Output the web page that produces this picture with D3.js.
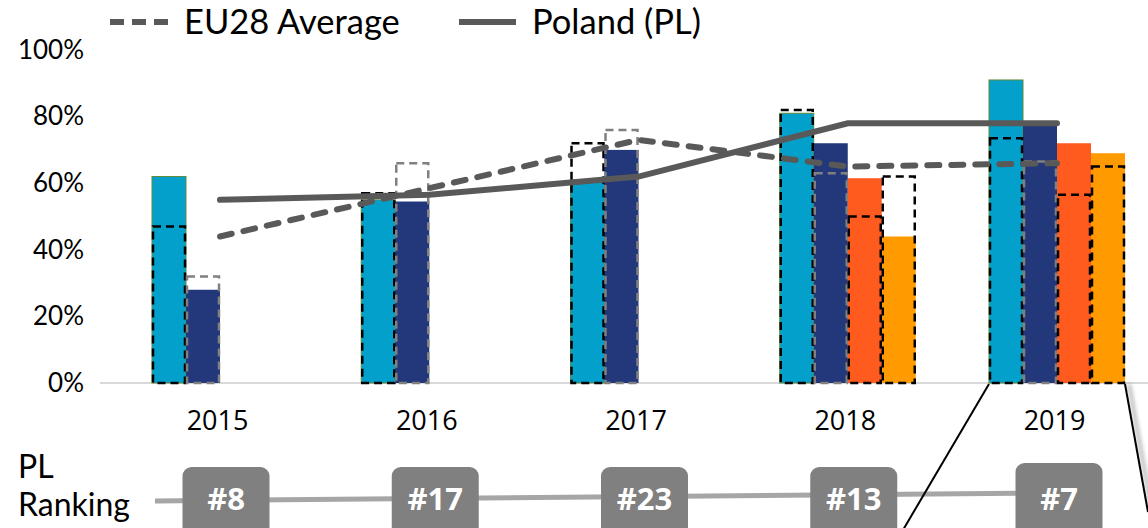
<!DOCTYPE html>
<html>
<head>
<meta charset="utf-8">
<script src="https://cdn.jsdelivr.net/npm/d3@7"></script>
<style>
  html, body { margin: 0; padding: 0; background: #fff; }
  svg { display: block; }
</style>
</head>
<body>
<svg id="chart" width="1148" height="528"></svg>
<script>
// ---- data ----
const years = ["2015", "2016", "2017", "2018", "2019"];
const seriesKeys = ["s1", "s2", "s3", "s4"];
const s1 = [62, 55, 61, 81, 91];
const s2 = [28, 54.5, 70, 72, 78];
const s3 = [null, null, null, 61.5, 72];
const s4 = [null, null, null, 44, 69];
const s1EU = [47, 57, 72, 82, 73.5];
const s2EU = [32, 66, 76, 63, 66.5];
const s3EU = [null, null, null, 50, 56.5];
const s4EU = [null, null, null, 62, 65];
const euAverage = [44, 58.5, 73, 65, 66];
const poland = [55, 56.5, 62, 78, 78];
const ranks = ["#8", "#17", "#23", "#13", "#7"];
const yTicks = [0, 20, 40, 60, 80, 100];
const legendLabels = ["EU28 Average", "Poland (PL)"];

const seriesValues = { s1: s1, s2: s2, s3: s3, s4: s4 };
const seriesEU = { s1: s1EU, s2: s2EU, s3: s3EU, s4: s4EU };
const seriesColor = { s1: "#03a0cb", s2: "#22387a", s3: "#ff5b1f", s4: "#ff9a00" };
const seriesOutline = { s1: "#000", s2: "#808080", s3: "#000", s4: "#000" };

const svg = d3.select("#chart");
const geo = "'Lato', 'DejaVu Sans', sans-serif";

const x = d3.scalePoint().domain(years).range([220, 1057]);
const sub = d3.scaleBand().domain(seriesKeys).range([-68, 68]).paddingInner(0);
const y = d3.scaleLinear().domain([0, 100]).range([383, 50]);

// baseline
svg.append("line")
  .attr("x1", 100).attr("x2", 1148)
  .attr("y1", y(0)).attr("y2", y(0))
  .attr("stroke", "#d9d9d9").attr("stroke-width", 2);

// y axis
const yAxis = svg.append("g")
  .attr("transform", "translate(88,0)")
  .call(d3.axisLeft(y).tickValues(yTicks).tickFormat(d => d + "%").tickSize(0).tickPadding(4));
yAxis.select(".domain").remove();
yAxis.selectAll("text")
  .attr("font-family", geo).attr("font-size", 26).attr("fill", "#000");

// x axis labels
const xAxis = svg.append("g")
  .attr("transform", `translate(-3,${y(0)})`)
  .call(d3.axisBottom(x).tickSize(0).tickPadding(28));
xAxis.select(".domain").remove();
xAxis.selectAll("text")
  .attr("font-family", "'Open Sans', sans-serif").attr("font-size", 27).attr("fill", "#000");

// bars
const barData = [];
years.forEach((yr, i) => {
  seriesKeys.forEach(k => {
    barData.push({ year: yr, key: k, v: seriesValues[k][i], eu: seriesEU[k][i] });
  });
});

svg.append("g").selectAll("rect")
  .data(barData.filter(d => d.v != null))
  .join("rect")
  .attr("x", d => x(d.year) + sub(d.key))
  .attr("width", sub.bandwidth())
  .attr("y", d => y(d.v))
  .attr("height", d => y(0) - y(d.v))
  .attr("fill", d => seriesColor[d.key])
  .attr("stroke", d => d.key === "s1" ? "#5f8a3a" : "none")
  .attr("stroke-width", 1);

// EU reference outlines
svg.append("g").selectAll("rect")
  .data(barData.filter(d => d.eu != null))
  .join("rect")
  .attr("x", d => x(d.year) + sub(d.key) + 1)
  .attr("width", sub.bandwidth() - 2)
  .attr("y", d => y(d.eu))
  .attr("height", d => y(0) - y(d.eu))
  .attr("fill", "none")
  .attr("stroke", d => seriesOutline[d.key])
  .attr("stroke-width", 2.5)
  .attr("stroke-dasharray", "8 5");

// lines
const line = d3.line().x((d, i) => x(years[i])).y(d => y(d));
svg.append("path")
  .attr("d", line(euAverage))
  .attr("fill", "none").attr("stroke", "#595959")
  .attr("stroke-width", 6).attr("stroke-linecap", "round")
  .attr("stroke-dasharray", "12 12");
svg.append("path")
  .attr("d", line(poland))
  .attr("fill", "none").attr("stroke", "#595959")
  .attr("stroke-width", 6).attr("stroke-linecap", "round");

// legend
const lg = svg.append("g");
lg.append("line").attr("x1", 110).attr("x2", 170).attr("y1", 22).attr("y2", 22)
  .attr("stroke", "#595959").attr("stroke-width", 6).attr("stroke-dasharray", "14 8");
lg.append("text").attr("x", 184).attr("y", 34).text(legendLabels[0])
  .attr("font-family", geo).attr("font-size", 34.5).attr("fill", "#000");
lg.append("line").attr("x1", 459).attr("x2", 516).attr("y1", 22).attr("y2", 22)
  .attr("stroke", "#595959").attr("stroke-width", 6);
lg.append("text").attr("x", 532).attr("y", 34).text(legendLabels[1])
  .attr("font-family", geo).attr("font-size", 34.5).attr("fill", "#000");

// shadow filter for callout line
const defs = svg.append("defs");
const f = defs.append("filter").attr("id", "sh").attr("x", "-50%").attr("y", "-50%").attr("width", "200%").attr("height", "200%");
f.append("feGaussianBlur").attr("in", "SourceAlpha").attr("stdDeviation", 2).attr("result", "b");
f.append("feOffset").attr("in", "b").attr("dx", 4).attr("dy", 0).attr("result", "o");
f.append("feComponentTransfer").attr("in", "o").attr("result", "o2")
  .append("feFuncA").attr("type", "linear").attr("slope", 0.5);
const fm = f.append("feMerge");
fm.append("feMergeNode").attr("in", "o2");
fm.append("feMergeNode").attr("in", "SourceGraphic");

// ranking row
svg.append("text").attr("x", 18).attr("y", 478).text("PL")
  .attr("font-family", geo).attr("font-size", 32).attr("fill", "#000");
svg.append("text").attr("x", 18).attr("y", 516).text("Ranking")
  .attr("font-family", geo).attr("font-size", 32).attr("fill", "#000");
svg.append("line")
  .attr("x1", 155).attr("x2", x(years[4]))
  .attr("y1", 501).attr("y2", 493)
  .attr("stroke", "#a6a6a6").attr("stroke-width", 5);

// callout lines (zoom to 2019)
svg.append("line")
  .attr("x1", x("2019") + sub.range()[0]).attr("y1", y(0) + 1)
  .attr("x2", 903).attr("y2", 530)
  .attr("stroke", "#000").attr("stroke-width", 2);
svg.append("line")
  .attr("x1", x("2019") + sub.range()[1]).attr("y1", y(0) + 1)
  .attr("x2", 1148).attr("y2", 512)
  .attr("stroke", "#000").attr("stroke-width", 2)
  .attr("filter", "url(#sh)");

const rg = svg.append("g").selectAll("g")
  .data(years.map((yr, i) => ({ year: yr, r: ranks[i], i: i })))
  .join("g")
  .attr("transform", d => `translate(${x(d.year) + (d.i === 4 ? 2 : 6)},0)`);
rg.append("rect")
  .attr("x", -43.5).attr("width", 87)
  .attr("y", d => d.i === 4 ? 463 : 467).attr("height", 75)
  .attr("rx", 9).attr("fill", "#808080");
rg.append("text")
  .attr("text-anchor", "middle").attr("y", 510)
  .attr("font-family", "'Open Sans', sans-serif").attr("font-weight", 700)
  .attr("font-size", 31).attr("fill", "#fff")
  .text(d => d.r);
</script>
</body>
</html>
